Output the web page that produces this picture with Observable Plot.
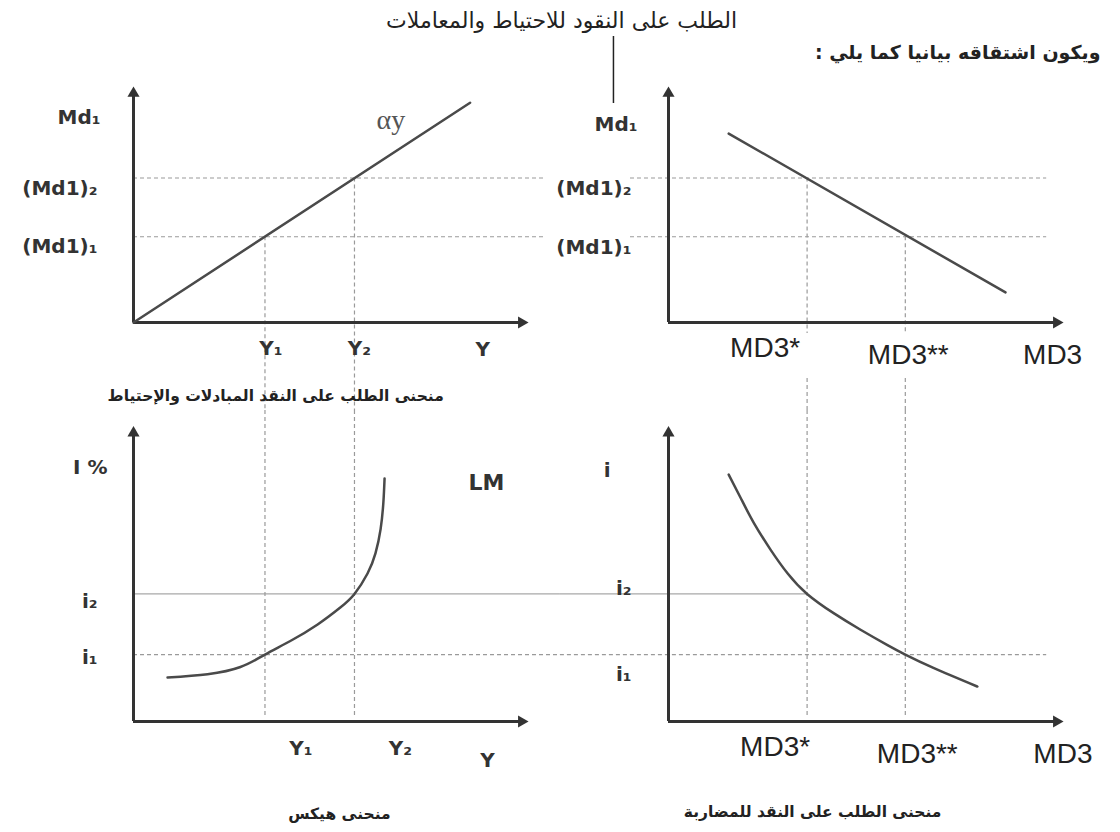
<!DOCTYPE html>
<html><head><meta charset="utf-8">
<script src="https://cdn.jsdelivr.net/npm/d3@7"></script>
<script src="https://cdn.jsdelivr.net/npm/@observablehq/plot@0.6"></script>
<style>
body{margin:0;background:#fff}
#wrap{position:relative;width:1120px;height:832px;overflow:hidden;background:#fff}
#wrap svg{position:absolute;overflow:visible}
</style></head><body><div id="wrap"></div>
<script>
// ---------- texts ----------
const headerTitle = "الطلب على النقود للاحتياط والمعاملات";
const headerNote = "ويكون اشتقاقه بيانيا كما يلي :\u200F";
const titleTransactions = "منحنى الطلب على النقد المبادلات والإحتياط";
const titleHicks = "منحنى هيكس";
const titleSpeculative = "منحنى الطلب على النقد للمضاربة";

// ---------- levels (abstract units, 0..10 per axis) ----------
const incomeLevels = [3.32, 5.58];         // Y1, Y2
const incomeLabels = ["Y₁", "Y₂"];
const mdLevels = [3.65, 6.15];             // (Md1)1, (Md1)2
const mdLabels = ["(Md1)₁", "(Md1)₂"];
const rateLevels = [2.26, 4.31];           // i1, i2
const rateLabels = ["i₁", "i₂"];
const md3Levels = [3.5, 5.98];             // MD3*, MD3**
const md3Labels = ["MD3*", "MD3**"];

// ---------- curves ----------
const alphaYLine = [{Y: 0, Md: 0}, {Y: 8.5, Md: 9.35}];
const md1Md3Line = [{MD3: 1.52, Md: 8.04}, {MD3: 8.51, Md: 1.28}];
const lmY = [0.86, 1.87, 2.70, 3.32, 3.96, 4.65, 5.23, 5.58, 5.91, 6.11, 6.24, 6.31, 6.34];
const lmI = [1.49, 1.60, 1.84, 2.26, 2.72, 3.28, 3.86, 4.31, 5.00, 5.68, 6.50, 7.40, 8.21];
const specMD3 = [1.52, 1.82, 2.15, 2.58, 3.01, 3.50, 4.17, 4.85, 5.53, 5.98, 6.69, 7.80];
const specI = [8.34, 7.56, 6.72, 5.80, 5.00, 4.31, 3.66, 3.10, 2.58, 2.26, 1.81, 1.18];

const lmCurve = lmY.map((y, k) => ({Y: y, i: lmI[k]}));
const specCurve = specMD3.map((m, k) => ({MD3: m, i: specI[k]}));

// ---------- style ----------
const AX = "#333333", CURVE = "#4a4a4a", GUIDE = "#9a9a9a";
const LAB = {fontFamily: "DejaVu Sans, sans-serif", fontWeight: "bold", fontSize: 20, fill: "#333"};
const ARIAL = {fontFamily: "Liberation Sans, Arial, sans-serif", fontSize: 28, fill: "#222"};
const ARB_TITLE = {fontFamily: "DejaVu Sans, sans-serif", fontWeight: "bold", fontSize: 15.5, fill: "#222"};
const dash = {stroke: GUIDE, strokeWidth: 1.2, strokeDasharray: "4,3"};

const wrap = document.getElementById("wrap");
function place(svg, left, topPx) {
  svg.style.left = left + "px";
  svg.style.top = topPx + "px";
  svg.style.background = "transparent";
  wrap.append(svg);
}
function axes() {
  return [
    Plot.ruleY([0], {x1: 0, x2: 9.8, stroke: AX, strokeWidth: 3}),
    Plot.ruleX([0], {y1: 0, y2: 9.75, stroke: AX, strokeWidth: 3}),
    Plot.dot([{x: 9.8, y: 0, a: 90}, {x: 0, y: 9.75, a: 0}],
      {x: "x", y: "y", rotate: "a", symbol: "triangle", r: 4.5, fill: AX, stroke: null})
  ];
}
// one label from a values/labels pair, placed relative to the value on an axis
function xLabel(values, labels, k, dx, dy, style) {
  return Plot.text([values[k]], {x: d => d, y: 0, text: () => labels[k], dx, dy, ...style});
}
function yLabel(values, labels, k, dx, dy, style) {
  return Plot.text([values[k]], {x: 0, y: d => d, text: () => labels[k], textAnchor: "end", dx, dy, ...style});
}
const topRow = {width: 560, height: 410, marginTop: 87, marginBottom: 88};
const bottomRow = {width: 560, height: 422, marginTop: 15, marginBottom: 111};
const leftCol = {marginLeft: 133, marginRight: 31};
const rightCol = {marginLeft: 108, marginRight: 56};
const scales = {x: {domain: [0, 10], axis: null}, y: {domain: [0, 10], axis: null}};

// ---------- top-left: transactions demand ----------
place(Plot.plot({
  ...topRow, ...leftCol, ...scales,
  marks: [
    Plot.ruleY(mdLevels, {y: d => d, x1: 0, x2: 10.4, ...dash}),
    Plot.ruleX(incomeLevels, {x: d => d, y1: (d, k) => mdLevels[k], y2: -3.75, ...dash}),
    ...axes(),
    Plot.line(alphaYLine, {x: "Y", y: "Md", stroke: CURVE, strokeWidth: 2.5}),
    Plot.text(["αy"], {x: 6.5, y: 8.6, text: d => d, fontFamily: "Liberation Serif, serif", fontSize: 28, fill: "#555"}),
    Plot.text(["Md₁"], {x: 0, y: 8.72, text: d => d, textAnchor: "end", dx: -33, ...LAB}),
    yLabel(mdLevels, mdLabels, 0, -36, 10, LAB),
    yLabel(mdLevels, mdLabels, 1, -36, 11, LAB),
    xLabel(incomeLevels, incomeLabels, 0, 6, 26, LAB),
    xLabel(incomeLevels, incomeLabels, 1, 5, 26, LAB),
    Plot.text(["Y"], {x: 8.82, y: 0, text: d => d, dy: 27, ...LAB}),
    Plot.text([titleTransactions], {x: 3.59, y: -3.11, text: d => d, ...ARB_TITLE})
  ]
}), 0, 0);

// ---------- top-right: Md1 vs MD3 ----------
place(Plot.plot({
  ...topRow, ...rightCol, ...scales,
  marks: [
    Plot.ruleY(mdLevels, {y: d => d, x1: -0.96, x2: 9.55, ...dash}),
    Plot.ruleX(md3Levels, {x: d => d, y1: (d, k) => mdLevels[1 - k], y2: -0.47, ...dash}),
    Plot.ruleX(md3Levels, {x: d => d, y1: -2.38, y2: -3.75, ...dash}),
    ...axes(),
    Plot.line(md1Md3Line, {x: "MD3", y: "Md", stroke: CURVE, strokeWidth: 2.5}),
    Plot.ruleX([-1.39], {x: d => d, y1: 12.17, y2: 9.32, stroke: "#222", strokeWidth: 1.5}),
    Plot.text([headerTitle], {x: -2.7, y: 12.85, text: d => d, fontFamily: "DejaVu Sans, sans-serif", fontSize: 22, fill: "#222"}),
    Plot.text([headerNote], {x: 10.91, y: 11.49, text: d => d, textAnchor: "end", fontFamily: "DejaVu Sans, sans-serif", fontWeight: "bold", fontSize: 19, fill: "#222"}),
    Plot.text(["Md₁"], {x: 0, y: 8.43, text: d => d, textAnchor: "end", dx: -31, ...LAB}),
    yLabel(mdLevels, mdLabels, 0, -37, 11, LAB),
    yLabel(mdLevels, mdLabels, 1, -37, 11, LAB),
    xLabel(md3Levels, md3Labels, 0, -42, 26, ARIAL),
    xLabel(md3Levels, md3Labels, 1, 3, 33, ARIAL),
    Plot.text(["MD3"], {x: 9.7, y: 0, text: d => d, dy: 33, ...ARIAL})
  ]
}), 560, 0);

// ---------- bottom-left: LM (Hicks) ----------
place(Plot.plot({
  ...bottomRow, ...leftCol, ...scales,
  marks: [
    Plot.ruleY([rateLevels[0]], {y: d => d, x1: 0, x2: 10.78, ...dash}),
    Plot.ruleY([rateLevels[1]], {y: d => d, x1: 0, x2: 10.78, stroke: "#a8a8a8", strokeWidth: 1.2}),
    Plot.ruleX(incomeLevels, {x: d => d, y1: 10.51, y2: 0.2, ...dash}),
    ...axes(),
    Plot.line(lmCurve, {x: "Y", y: "i", curve: "natural", stroke: CURVE, strokeWidth: 2.5}),
    Plot.text(["I %"], {x: 0, y: 8.58, text: d => d, textAnchor: "end", dx: -26, ...LAB}),
    Plot.text(["LM"], {x: 8.91, y: 8.07, text: d => d, ...LAB, fontSize: 22}),
    yLabel(rateLevels, rateLabels, 0, -36, 3, LAB),
    yLabel(rateLevels, rateLabels, 1, -36, 8, LAB),
    xLabel(incomeLevels, incomeLabels, 0, 36, 27, LAB),
    xLabel(incomeLevels, incomeLabels, 1, 46, 27, LAB),
    Plot.text(["Y"], {x: 8.94, y: 0, text: d => d, dy: 39, ...LAB}),
    Plot.text([titleHicks], {x: 5.2, y: -3.11, text: d => d, ...ARB_TITLE})
  ]
}), 0, 410);

// ---------- bottom-right: speculative demand ----------
place(Plot.plot({
  ...bottomRow, ...rightCol, ...scales,
  marks: [
    Plot.ruleY([rateLevels[0]], {y: d => d, x1: -2.73, x2: 9.55, ...dash}),
    Plot.ruleY([rateLevels[1]], {y: d => d, x1: -2.73, x2: md3Levels[0], stroke: "#a8a8a8", strokeWidth: 1.2}),
    Plot.ruleX(md3Levels, {x: d => d, y1: 10.51, y2: 0.2, ...dash}),
    ...axes(),
    Plot.line(specCurve, {x: "MD3", y: "i", curve: "natural", stroke: CURVE, strokeWidth: 2.5}),
    Plot.text(["i"], {x: 0, y: 8.48, text: d => d, textAnchor: "end", dx: -58, ...LAB}),
    yLabel(rateLevels, rateLabels, 0, -37, 20, LAB),
    yLabel(rateLevels, rateLabels, 1, -37, -5, LAB),
    xLabel(md3Levels, md3Labels, 0, -32, 26, ARIAL),
    xLabel(md3Levels, md3Labels, 1, 12, 33, ARIAL),
    Plot.text(["MD3"], {x: 9.96, y: 0, text: d => d, dy: 33, ...ARIAL}),
    Plot.text([titleSpeculative], {x: 3.64, y: -3.07, text: d => d, ...ARB_TITLE})
  ]
}), 560, 410);
</script></body></html>
